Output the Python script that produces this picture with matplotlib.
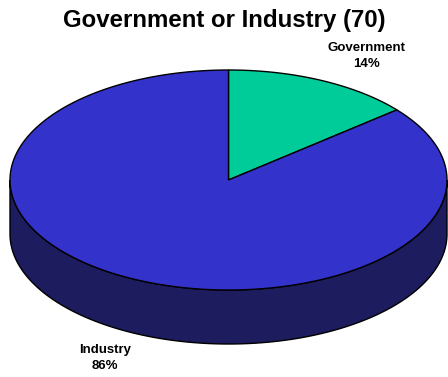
import numpy as np
import matplotlib
matplotlib.use("Agg")
import matplotlib.pyplot as plt
from matplotlib.patches import Polygon

# data
labels = ["Government", "Industry"]
shares = [14, 86]
top_colors = ["#00CC99", "#3333CC"]
side_colors = ["#007A5C", "#1C1C5E"]
title = "Government or Industry (70)"

# pie geometry (pixels)
cx, cy = 228.5, 180
rx, ry = 218.5, 110
depth = 54


def ell(t):
    # t in degrees, 90 = top, going clockwise as t decreases
    r = np.radians(t)
    return cx + rx * np.cos(r), cy - ry * np.sin(r)


fig = plt.figure(figsize=(4.48, 3.77), dpi=100)
ax = fig.add_axes([0, 0, 1, 1])
ax.set_xlim(0, 448)
ax.set_ylim(377, 0)
ax.axis("off")

plt.rcParams["font.family"] = ["Liberation Sans", "DejaVu Sans"]

fracs = np.array(shares) / sum(shares)
start = 90.0
wedges = []
for f, tc, sc in zip(fracs, top_colors, side_colors):
    end = start - f * 360
    wedges.append((start, end, tc, sc))
    start = end

# sides: only the front half is visible
for s, e, tc, sc in wedges:
    lo, hi = e, s
    for off in (0, 360, -360):
        a = max(lo + off, -180)
        b = min(hi + off, 0)
        if b > a:
            t = np.linspace(a, b, 200)
            x, y = ell(t)
            pts = np.column_stack([np.r_[x, x[::-1]], np.r_[y, y[::-1] + depth]])
            ax.add_patch(Polygon(pts, closed=True, facecolor=sc,
                                 edgecolor="black", lw=1.0, zorder=1))

# tops
for s, e, tc, sc in wedges:
    t = np.linspace(s, e, 300)
    x, y = ell(t)
    pts = np.column_stack([np.r_[cx, x], np.r_[cy, y]])
    ax.add_patch(Polygon(pts, closed=True, facecolor=tc,
                         edgecolor="black", lw=1.0, zorder=2))

ax.text(224, 20, title, ha="center", va="center", fontsize=17.3,
        fontweight="bold")
ax.text(366, 56, "%s\n%d%%" % (labels[0], shares[0]), ha="center",
        va="center", fontsize=9.5, fontweight="bold", linespacing=1.4)
ax.text(105, 358, "%s\n%d%%" % (labels[1], shares[1]), ha="center",
        va="center", fontsize=9.5, fontweight="bold", linespacing=1.4)

fig.savefig("out.png", dpi=100)
